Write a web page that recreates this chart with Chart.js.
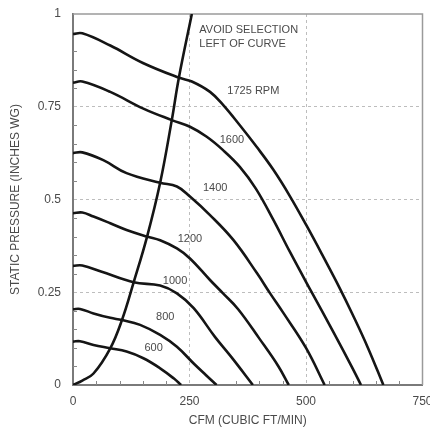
<!doctype html>
<html lang="en">
<head>
<meta charset="UTF-8" />
<title>Fan Performance - Static Pressure vs CFM</title>
<script src="https://cdn.jsdelivr.net/npm/chart.js"></script>
<style>
  html, body { margin: 0; padding: 0; background: #fff; }
</style>
</head>
<body>
<canvas id="fan-chart" width="430" height="428"></canvas>
<script>
// fan curves (x = CFM, y = inches WG)
const rpm1725X = [0, 20, 80, 150, 228, 255, 294, 322, 358, 394, 430, 465, 501, 537, 572, 600, 633, 666];
const rpm1725Y = [0.946, 0.948, 0.915, 0.868, 0.828, 0.818, 0.790, 0.755, 0.700, 0.642, 0.580, 0.510, 0.430, 0.346, 0.262, 0.190, 0.100, 0];
const rpm1600X = [0, 20, 80, 151, 212, 251, 287, 322, 358, 392, 430, 465, 510, 560, 600, 618];
const rpm1600Y = [0.815, 0.818, 0.790, 0.745, 0.714, 0.696, 0.669, 0.633, 0.588, 0.530, 0.445, 0.360, 0.255, 0.140, 0.045, 0];
const rpm1400X = [0, 20, 65, 115, 187, 223, 251, 294, 344, 395, 423, 451, 500, 540];
const rpm1400Y = [0.625, 0.627, 0.606, 0.571, 0.545, 0.535, 0.508, 0.458, 0.391, 0.301, 0.247, 0.195, 0.100, 0];
const rpm1200X = [0, 20, 44, 80, 115, 159, 187, 223, 251, 294, 322, 354, 400, 440, 463];
const rpm1200Y = [0.463, 0.465, 0.454, 0.436, 0.418, 0.400, 0.390, 0.368, 0.341, 0.283, 0.247, 0.205, 0.125, 0.052, 0];
const rpm1000X = [0, 20, 60, 130, 187, 223, 259, 305, 340, 386];
const rpm1000Y = [0.321, 0.322, 0.306, 0.277, 0.268, 0.247, 0.207, 0.129, 0.075, 0];
const rpm800X = [0, 15, 44, 80, 105, 144, 187, 223, 259, 285, 308];
const rpm800Y = [0.204, 0.205, 0.193, 0.181, 0.175, 0.162, 0.135, 0.103, 0.058, 0.027, 0];
const rpm600X = [0, 15, 44, 80, 115, 151, 187, 216, 232];
const rpm600Y = [0.117, 0.118, 0.108, 0.099, 0.090, 0.072, 0.045, 0.018, 0];
// "avoid selection" boundary
const avoidX = [0, 20, 44, 80, 105, 130, 159, 187, 212, 227, 255];
const avoidY = [0, 0.012, 0.031, 0.099, 0.175, 0.276, 0.400, 0.545, 0.714, 0.827, 1.0];

const xTicks = [0, 250, 500, 750];
const yTicks = [0, 0.25, 0.5, 0.75, 1];
const yTickText = ['0', '0.25', '0.5', '0.75', '1'];

const curveNames = ['1725 RPM', '1600', '1400', '1200', '1000', '800', '600'];
const nameX = [387, 341, 305, 251, 219, 198, 173];
const nameY = [0.792, 0.66, 0.53, 0.394, 0.281, 0.184, 0.099];
const avoidNote = ['AVOID SELECTION', 'LEFT OF CURVE'];

const FONT = '"Liberation Sans", Arial, sans-serif';
const TEXT = '#4a4a4a';

function series(xs, ys) {
  return xs.map((x, i) => ({ x: x, y: ys[i] }));
}

function curve(label, xs, ys) {
  return {
    label: label,
    data: series(xs, ys),
    borderColor: '#151515',
    borderWidth: 2.6,
    pointRadius: 0,
    fill: false,
    tension: 0.4
  };
}

// grey frame + small inward minor ticks
const framePlugin = {
  id: 'frame',
  beforeDatasetsDraw(chart) {
    const { ctx, chartArea: a, scales: { x, y } } = chart;
    ctx.save();
    ctx.strokeStyle = '#9a9a9a';
    ctx.lineWidth = 1.5;
    ctx.beginPath();
    ctx.moveTo(a.left, a.top);
    ctx.lineTo(a.right, a.top);
    ctx.lineTo(a.right, a.bottom);
    ctx.stroke();

    ctx.strokeStyle = '#888';
    ctx.lineWidth = 1;
    ctx.beginPath();
    for (let v = 50; v < 750; v += 50) {
      if (v % 250 === 0) continue;
      const px = Math.round(x.getPixelForValue(v)) + 0.5;
      ctx.moveTo(px, a.bottom);
      ctx.lineTo(px, a.bottom - 4);
    }
    for (let k = 1; k < 20; k++) {
      if (k % 5 === 0) continue;
      const py = Math.round(y.getPixelForValue(k * 0.05)) + 0.5;
      ctx.moveTo(a.left, py);
      ctx.lineTo(a.left + 4, py);
    }
    ctx.stroke();
    ctx.restore();
  }
};

const labelPlugin = {
  id: 'curveNames',
  afterDatasetsDraw(chart) {
    const { ctx, scales: { x, y } } = chart;
    ctx.save();
    ctx.font = '11px ' + FONT;
    ctx.fillStyle = TEXT;
    ctx.textAlign = 'center';
    ctx.textBaseline = 'middle';
    curveNames.forEach((t, i) => {
      ctx.fillText(t, x.getPixelForValue(nameX[i]), y.getPixelForValue(nameY[i]));
    });
    ctx.textAlign = 'left';
    ctx.fillText(avoidNote[0], x.getPixelForValue(271), y.getPixelForValue(0.957));
    ctx.fillText(avoidNote[1], x.getPixelForValue(271), y.getPixelForValue(0.919));
    ctx.restore();
  }
};

const gridColor = (max) => (c) =>
  (c.tick && (c.tick.value === 0 || c.tick.value === max)) ? 'rgba(0,0,0,0)' : '#bdbdbd';

new Chart(document.getElementById('fan-chart'), {
  type: 'line',
  data: {
    datasets: [
      curve('1725', rpm1725X, rpm1725Y),
      curve('1600', rpm1600X, rpm1600Y),
      curve('1400', rpm1400X, rpm1400Y),
      curve('1200', rpm1200X, rpm1200Y),
      curve('1000', rpm1000X, rpm1000Y),
      curve('800', rpm800X, rpm800Y),
      curve('600', rpm600X, rpm600Y),
      curve('avoid', avoidX, avoidY)
    ]
  },
  options: {
    responsive: false,
    animation: false,
    layout: { padding: { top: 14, right: 7.5, left: 0, bottom: 0 } },
    plugins: {
      legend: { display: false },
      tooltip: { enabled: false }
    },
    scales: {
      x: {
        type: 'linear',
        min: 0,
        max: 750,
        afterBuildTicks: (s) => { s.ticks = xTicks.map(v => ({ value: v })); },
        afterFit: (s) => { s.height = 43; s.paddingLeft = 0; s.paddingRight = 0; },
        grid: { color: gridColor(750), lineWidth: 1, drawTicks: false },
        border: { display: true, color: '#7a7a7a', width: 2, dash: [3, 3] },
        ticks: {
          color: TEXT, padding: 9, maxRotation: 0, autoSkip: false,
          font: { family: FONT, size: 12 },
          callback: (v) => String(v)
        },
        title: {
          display: true,
          text: 'CFM (CUBIC FT/MIN)',
          color: TEXT,
          padding: { top: 0, bottom: 0 },
          font: { family: FONT, size: 12 }
        }
      },
      y: {
        type: 'linear',
        min: 0,
        max: 1,
        afterBuildTicks: (s) => { s.ticks = yTicks.map(v => ({ value: v })); },
        afterFit: (s) => { s.width = 73; s.paddingTop = 0; s.paddingBottom = 0; },
        grid: { color: gridColor(1), lineWidth: 1, drawTicks: false },
        border: { display: true, color: '#7a7a7a', width: 2, dash: [3, 3] },
        ticks: {
          color: TEXT, padding: 12, autoSkip: false,
          font: { family: FONT, size: 12 },
          callback: (v) => yTickText[yTicks.indexOf(v)]
        },
        title: {
          display: true,
          text: 'STATIC PRESSURE (INCHES WG)',
          color: TEXT,
          padding: { top: 8, bottom: 0 },
          font: { family: FONT, size: 12 }
        }
      }
    }
  },
  plugins: [framePlugin, labelPlugin]
});
</script>
</body>
</html>
